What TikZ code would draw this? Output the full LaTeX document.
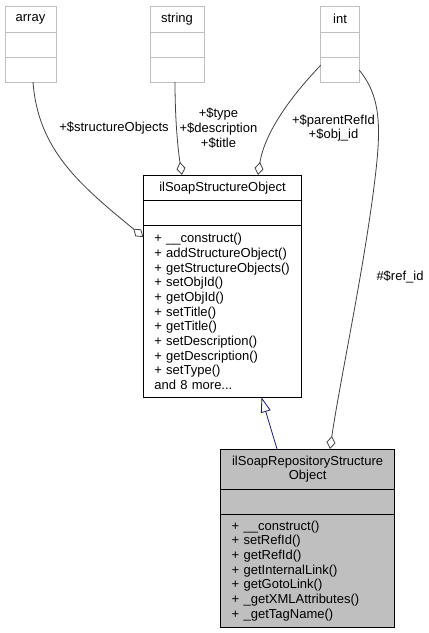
\documentclass[tikz,border=0pt]{standalone}
\usepackage{fontspec}
\setmainfont{Liberation Sans}
\usetikzlibrary{arrows.meta}
\definecolor{edgegray}{HTML}{404040}
\definecolor{boxgray}{HTML}{BFBFBF}
\definecolor{typeline}{HTML}{BFBFBF}
\definecolor{navyedge}{HTML}{191970}
\begin{document}
\begin{tikzpicture}[x=1pt,y=-1pt,
  font=\fontsize{13}{14.67}\selectfont,
  sec/.style={draw, anchor=north west, inner sep=0pt, outer sep=0pt, line width=0.9pt},
  typesec/.style={sec, draw=typeline, fill=white},
  classsec/.style={sec, draw=black, fill=white, line width=1pt},
  basesec/.style={sec, draw=black, fill=boxgray, line width=1pt},
  memberlist/.style={align=left, inner xsep=11pt, text width=#1},
  conn/.style={draw=edgegray, line width=0.8pt, -{Diamond[length=13pt,width=9pt,fill=white]}},
  inherit/.style={draw=navyedge, line width=0.8pt, -{Triangle[length=15pt,width=10pt,fill=white]}},
  lbl/.style={align=center, inner sep=0pt}]
\useasboundingbox (0,0) rectangle (429,633);
% type boxes
\node[typesec, minimum width=51pt, minimum height=26pt] (arrT) at (5,6) {array};
\node[typesec, minimum width=51pt, minimum height=25pt] (arrA) at (arrT.south west) {};
\node[typesec, minimum width=51pt, minimum height=25pt] (arrM) at (arrA.south west) {};
\node[typesec, minimum width=54pt, minimum height=26pt] (strT) at (150,6) {string};
\node[typesec, minimum width=54pt, minimum height=25pt] (strA) at (strT.south west) {};
\node[typesec, minimum width=54pt, minimum height=25pt] (strM) at (strA.south west) {};
\node[typesec, minimum width=38.6pt, minimum height=26pt] (intT) at (320.7,6) {int};
\node[typesec, minimum width=38.6pt, minimum height=25pt] (intA) at (intT.south west) {};
\node[typesec, minimum width=38.6pt, minimum height=25pt] (intM) at (intA.south west) {};
% main class
\node[classsec, minimum width=158.4pt, minimum height=25.7pt] (mainT) at (143.3,175) {ilSoapStructureObject};
\node[classsec, minimum width=158.4pt, minimum height=25pt] (mainA) at (mainT.south west) {};
\node[classsec, minimum width=158.4pt, minimum height=171.6pt, memberlist=136.4pt] (mainM) at (mainA.south west) {%
+ \_\_construct()\\
+ addStructureObject()\\
+ getStructureObjects()\\
+ setObjId()\\
+ getObjId()\\
+ setTitle()\\
+ getTitle()\\
+ setDescription()\\
+ getDescription()\\
+ setType()\\
and 8 more...};
% derived class
\node[basesec, minimum width=173.8pt, minimum height=40pt, align=center] (botT) at (220.7,449) {ilSoapRepositoryStructure\\Object};
\node[basesec, minimum width=173.8pt, minimum height=25pt] (botA) at (botT.south west) {};
\node[basesec, minimum width=173.8pt, minimum height=113.3pt, memberlist=151.8pt] (botM) at (botA.south west) {%
+ \_\_construct()\\
+ setRefId()\\
+ getRefId()\\
+ getInternalLink()\\
+ getGotoLink()\\
+ \_getXMLAttributes()\\
+ \_getTagName()};
% connectors
\draw[conn] ([xshift=28pt]arrM.south west) .. controls (38,150) and (80,185) .. ([yshift=-11.3pt]mainM.north west);
\draw[conn] ([xshift=25pt]strM.south west) .. controls (175,120) and (178,150) .. ([xshift=38.7pt]mainT.north west);
\draw[conn] ([yshift=-8.3pt]intM.north west) .. controls (295,92) and (265,130) .. ([xshift=114.7pt]mainT.north west);
\draw[conn] ([yshift=-13.3pt]intM.north east) .. controls (380,95) and (381,125) .. (376,170) .. controls (366,260) and (340,380) .. ([xshift=109.3pt]botT.north west);
\draw[inherit] ([xshift=56.3pt]botT.north west) -- ([xshift=118.2pt]mainM.south west);
% labels
\node[lbl] (l1) at (114,128) {+\$structureObjects};
\node[lbl] (l2) at (218.5,128) {+\$type\\+\$description\\+\$title};
\node[lbl] (l3) at (333.5,128) {+\$parentRefId\\+\$obj\_id};
\node[lbl] (l4) at (400,277) {\#\$ref\_id};
\end{tikzpicture}
\end{document}
